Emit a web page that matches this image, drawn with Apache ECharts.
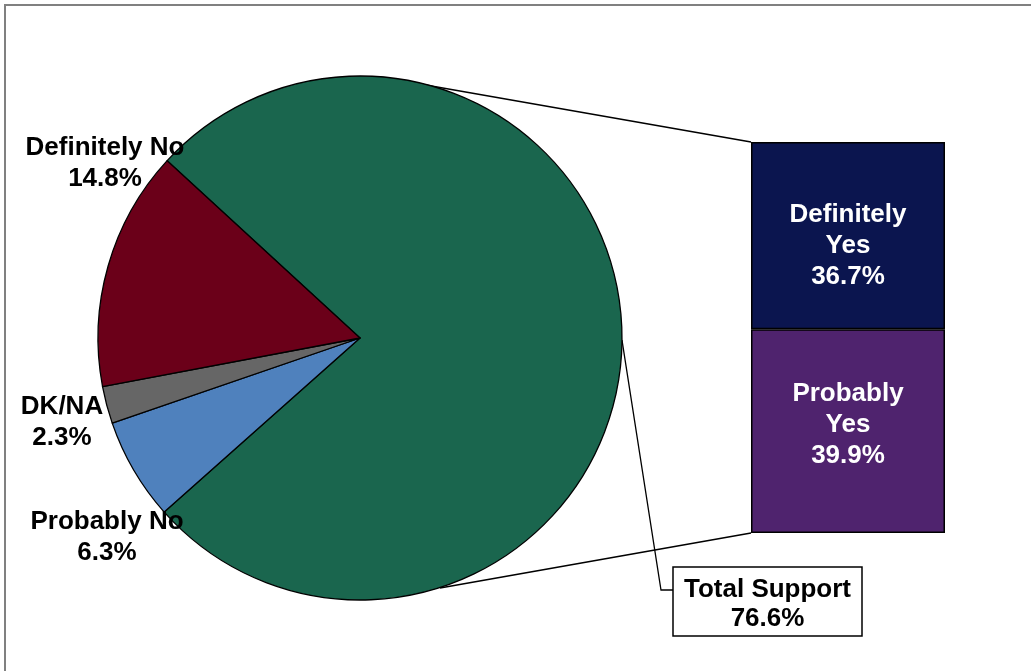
<!DOCTYPE html>
<html>
<head>
<meta charset="utf-8">
<script src="https://cdn.jsdelivr.net/npm/echarts@6/dist/echarts.min.js"></script>
<style>
html,body{margin:0;padding:0;background:#fff;}
#chart{width:1031px;height:671px;}
</style>
</head>
<body>
<div id="chart"></div>
<script>
// ---- data ----
const pieCategories = ['Total Support', 'Probably No', 'DK/NA', 'Definitely No'];
const pieValues = [76.6, 6.3, 2.3, 14.8];
const pieColors = ['#1a664e', '#4f81bd', '#666666', '#6b0019'];
const barCategories = ['Probably Yes', 'Definitely Yes'];
const barValues = [39.9, 36.7];
const barColors = ['#4f236e', '#0b154f'];

// ---- layout ----
const CX = 360, CY = 338, R = 262;
const START = 137.4;
const FONT = '"Liberation Sans", Arial, sans-serif';
const FS = 26;

const chart = echarts.init(document.getElementById('chart'));
const total = pieValues.reduce((a, b) => a + b, 0);
const barTotal = barValues.reduce((a, b) => a + b, 0);
const fmt = v => v.toFixed(1) + '%';

// green slice mid angle for leader line
const midAng = (START - pieValues[0] / total * 360 / 2) * Math.PI / 180;
const lx = CX + R * Math.cos(midAng), ly = CY - R * Math.sin(midAng);

const labelPos = {
  1: [107, 537],
  2: [62, 422],
  3: [105, 163]
};
const barLabelOffset = [[0, -6], [0, 10]];

const barSeries = barCategories.map((name, i) => ({
  type: 'bar',
  name: name,
  stack: 'support',
  xAxisIndex: 0, yAxisIndex: 0,
  barWidth: '100%',
  data: [barValues[i]],
  itemStyle: { color: barColors[i], borderColor: '#000', borderWidth: 1.5 },
  label: {
    show: true, position: 'inside', color: '#fff', offset: barLabelOffset[i],
    fontFamily: FONT, fontWeight: 'bold', fontSize: FS, lineHeight: 31,
    formatter: () => name.split(' ').join('\n') + '\n' + fmt(barValues[i])
  },
  z: 3
}));

chart.setOption({
  animation: false,
  backgroundColor: '#fff',
  grid: { left: 751, top: 142, width: 194, height: 391, containLabel: false },
  xAxis: { type: 'category', data: ['support'], show: false },
  yAxis: { type: 'value', min: 0, max: barTotal, show: false },
  graphic: [
    { type: 'rect', z: 0, shape: { x: 5, y: 5, width: 1060, height: 700 },
      style: { fill: 'none', stroke: '#808080', lineWidth: 2 } },
    { type: 'line', z: 0, shape: { x1: 380, y1: 77, x2: 751, y2: 142 },
      style: { stroke: '#000', lineWidth: 1.6 } },
    { type: 'line', z: 0, shape: { x1: 440, y1: 588, x2: 751, y2: 533 },
      style: { stroke: '#000', lineWidth: 1.6 } },
    { type: 'polyline', z: 0, shape: { points: [[lx, ly], [661, 590], [673, 590]] },
      style: { stroke: '#000', lineWidth: 1.3, fill: 'none' } },
    { type: 'rect', z: 10, shape: { x: 673, y: 567, width: 189, height: 69 },
      style: { fill: '#fff', stroke: '#000', lineWidth: 1.5 } },
    { type: 'text', z: 11, x: 767.5, y: 604,
      style: { text: pieCategories[0] + '\n' + fmt(pieValues[0]), fill: '#000',
        font: 'bold ' + FS + 'px ' + FONT, lineHeight: 29, align: 'center', verticalAlign: 'middle' } }
  ],
  series: [
    {
      type: 'pie',
      center: [CX, CY],
      radius: R,
      startAngle: START,
      clockwise: true,
      avoidLabelOverlap: false,
      z: 2,
      itemStyle: { borderColor: '#000', borderWidth: 1.3 },
      label: {
        show: true, position: 'outside', color: '#000',
        fontFamily: FONT, fontWeight: 'bold', fontSize: FS, lineHeight: 31,
        formatter: p => p.name + '\n' + fmt(p.value)
      },
      labelLine: { show: false },
      labelLayout: p => {
        const pos = labelPos[p.dataIndex];
        if (!pos) return {};
        return { x: pos[0], y: pos[1], align: 'center', verticalAlign: 'middle' };
      },
      data: pieCategories.map((n, i) => ({
        name: n, value: pieValues[i],
        itemStyle: { color: pieColors[i] },
        label: { show: i !== 0 }
      }))
    },
    ...barSeries
  ]
});
</script>
</body>
</html>
